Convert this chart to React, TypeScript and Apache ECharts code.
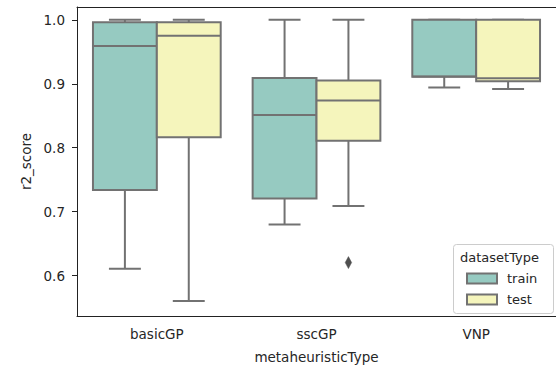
import React, { useEffect, useRef } from "react";
import * as echarts from "echarts";

const categories = ["basicGP", "sscGP", "VNP"];
const hues = ["train", "test"];
// [min, Q1, median, Q3, max] per category
const trainStats = [
  [0.611, 0.734, 0.959, 0.996, 1.0],
  [0.68, 0.7205, 0.851, 0.909, 1.0],
  [0.894, 0.911, 0.9115, 1.0, 1.0],
];
const testStats = [
  [0.5605, 0.8165, 0.975, 0.996, 1.0],
  [0.709, 0.811, 0.874, 0.905, 1.0],
  [0.892, 0.904, 0.9085, 1.0, 1.0],
];
// [categoryIndex, hueIndex, value]
const outliers = [[1, 1, 0.6205]];
const yTicks = [0.6, 0.7, 0.8, 0.9, 1.0];
const yMin = 0.537;
const yMax = 1.02;

const trainColor = "#96cac1";
const testColor = "#f5f5bc";
const lineGray = "#727272";
const textColor = "#262626";
const FONT = "DejaVu Sans";
const FS = 13.5;
const LFS = 13;

function boxRender(hueIndex: number) {
  return (params: any, api: any) => {
    const cat = api.value(0);
    const band = api.size([1, 0])[0];
    const boxW = (band * 0.8) / 2;
    const center = api.coord([cat, yMin])[0];
    const cx = center + (hueIndex === 0 ? -boxW / 2 : boxW / 2);
    const y = (v: number) => api.coord([cat, v])[1];
    const vMin = api.value(1);
    const q1 = api.value(2);
    const med = api.value(3);
    const q3 = api.value(4);
    const vMax = api.value(5);
    const fill = hueIndex === 0 ? trainColor : testColor;
    const ls = { stroke: lineGray, lineWidth: 2 };
    const capHalf = boxW / 4;
    return {
      type: "group",
      children: [
        { type: "line", shape: { x1: cx, y1: y(q3), x2: cx, y2: y(vMax) }, style: ls },
        { type: "line", shape: { x1: cx, y1: y(q1), x2: cx, y2: y(vMin) }, style: ls },
        { type: "line", shape: { x1: cx - capHalf, y1: y(vMax), x2: cx + capHalf, y2: y(vMax) }, style: ls },
        { type: "line", shape: { x1: cx - capHalf, y1: y(vMin), x2: cx + capHalf, y2: y(vMin) }, style: ls },
        {
          type: "rect",
          shape: { x: cx - boxW / 2, y: y(q3), width: boxW, height: y(q1) - y(q3) },
          style: { fill, stroke: lineGray, lineWidth: 2 },
        },
        { type: "line", shape: { x1: cx - boxW / 2, y1: y(med), x2: cx + boxW / 2, y2: y(med) }, style: ls },
      ],
    };
  };
}

export default function App() {
  const ref = useRef<HTMLDivElement>(null);
  useEffect(() => {
    if (!ref.current) return;
    const chart = echarts.init(ref.current, undefined, { renderer: "svg" });
    const trainData = trainStats.map((s, i) => [i, ...s]);
    const testData = testStats.map((s, i) => [i, ...s]);
    chart.setOption({
      animation: false,
      textStyle: { fontFamily: FONT },
      grid: {
        left: 77,
        top: 7,
        width: 482,
        height: 314,
        show: false,
      },
      xAxis: [
        {
          type: "category",
          data: categories,
          name: "metaheuristicType",
          nameLocation: "middle",
          nameGap: 34,
          nameTextStyle: { color: textColor, fontSize: FS, fontFamily: FONT },
          axisLine: { lineStyle: { color: "#222", width: 1 } },
          axisTick: { alignWithLabel: true, length: 5, lineStyle: { color: "#222" } },
          axisLabel: { color: textColor, fontSize: FS, fontFamily: FONT, margin: 11 },
          splitLine: { show: false },
        },
        {
          type: "category",
          data: categories,
          position: "top",
          axisLine: { show: true, lineStyle: { color: "#222", width: 1 } },
          axisTick: { show: false },
          axisLabel: { show: false },
          splitLine: { show: false },
        },
      ],
      yAxis: {
        type: "value",
        min: yMin,
        max: yMax,
        name: "r2_score",
        nameLocation: "middle",
        nameGap: 43,
        nameTextStyle: { color: textColor, fontSize: FS, fontFamily: FONT },
        axisLine: { show: true, lineStyle: { color: "#222", width: 1 } },
        axisTick: { show: true, length: 5, customValues: yTicks, lineStyle: { color: "#222" } },
        axisLabel: {
          color: textColor,
          fontSize: FS,
          fontFamily: FONT,
          margin: 12,
          customValues: yTicks,
          formatter: (v: number) => v.toFixed(1),
        },
        splitLine: { show: false },
      },
      legend: {
        orient: "vertical",
        left: 466,
        top: 272,
        itemWidth: 30,
        itemHeight: 10,
        itemGap: 8,
        padding: 0,
        icon: "rect",
        z: 100,
        textStyle: { color: textColor, fontSize: LFS, fontFamily: FONT, padding: [0, 0, 0, 5] },
        data: hues,
      },
      graphic: [
        {
          type: "rect",
          shape: { x: 453.5, y: 244.5, width: 100, height: 69, r: 3 },
          style: { fill: "rgba(255,255,255,0.8)", stroke: "#cccccc", lineWidth: 1 },
          z: 50,
        },
        {
          type: "text",
          x: 460,
          y: 257,
          style: {
            text: "datasetType",
            fill: textColor,
            font: `${LFS}px "${FONT}"`,
            textVerticalAlign: "middle",
          },
          z: 51,
        },
      ],
      series: [
        {
          name: "train",
          type: "custom",
          renderItem: boxRender(0),
          data: trainData,
          encode: { x: 0, y: [1, 2, 3, 4, 5] },
          itemStyle: { color: trainColor, borderColor: lineGray, borderWidth: 1.5 },
          z: 2,
        },
        {
          name: "test",
          type: "custom",
          renderItem: boxRender(1),
          data: testData,
          encode: { x: 0, y: [1, 2, 3, 4, 5] },
          itemStyle: { color: testColor, borderColor: lineGray, borderWidth: 1.5 },
          z: 2,
        },
        {
          name: "outliers",
          type: "custom",
          renderItem: (params: any, api: any) => {
            const cat = api.value(0);
            const hue = api.value(1);
            const band = api.size([1, 0])[0];
            const boxW = (band * 0.8) / 2;
            const p = api.coord([cat, api.value(2)]);
            const cx = p[0] + (hue === 0 ? -boxW / 2 : boxW / 2);
            const cy = p[1];
            return {
              type: "polygon",
              shape: {
                points: [
                  [cx, cy - 6],
                  [cx + 3.2, cy],
                  [cx, cy + 6],
                  [cx - 3.2, cy],
                ],
              },
              style: { fill: "#4f4f4f", stroke: "#4f4f4f", lineWidth: 0.5 },
            };
          },
          data: outliers,
          encode: { x: 0, y: 2 },
          z: 3,
        },
      ],
    });
    return () => chart.dispose();
  }, []);
  return (
    <div
      ref={ref}
      style={{ position: "fixed", left: 0, top: 0, width: 556, height: 369, background: "#fff" }}
    />
  );
}
